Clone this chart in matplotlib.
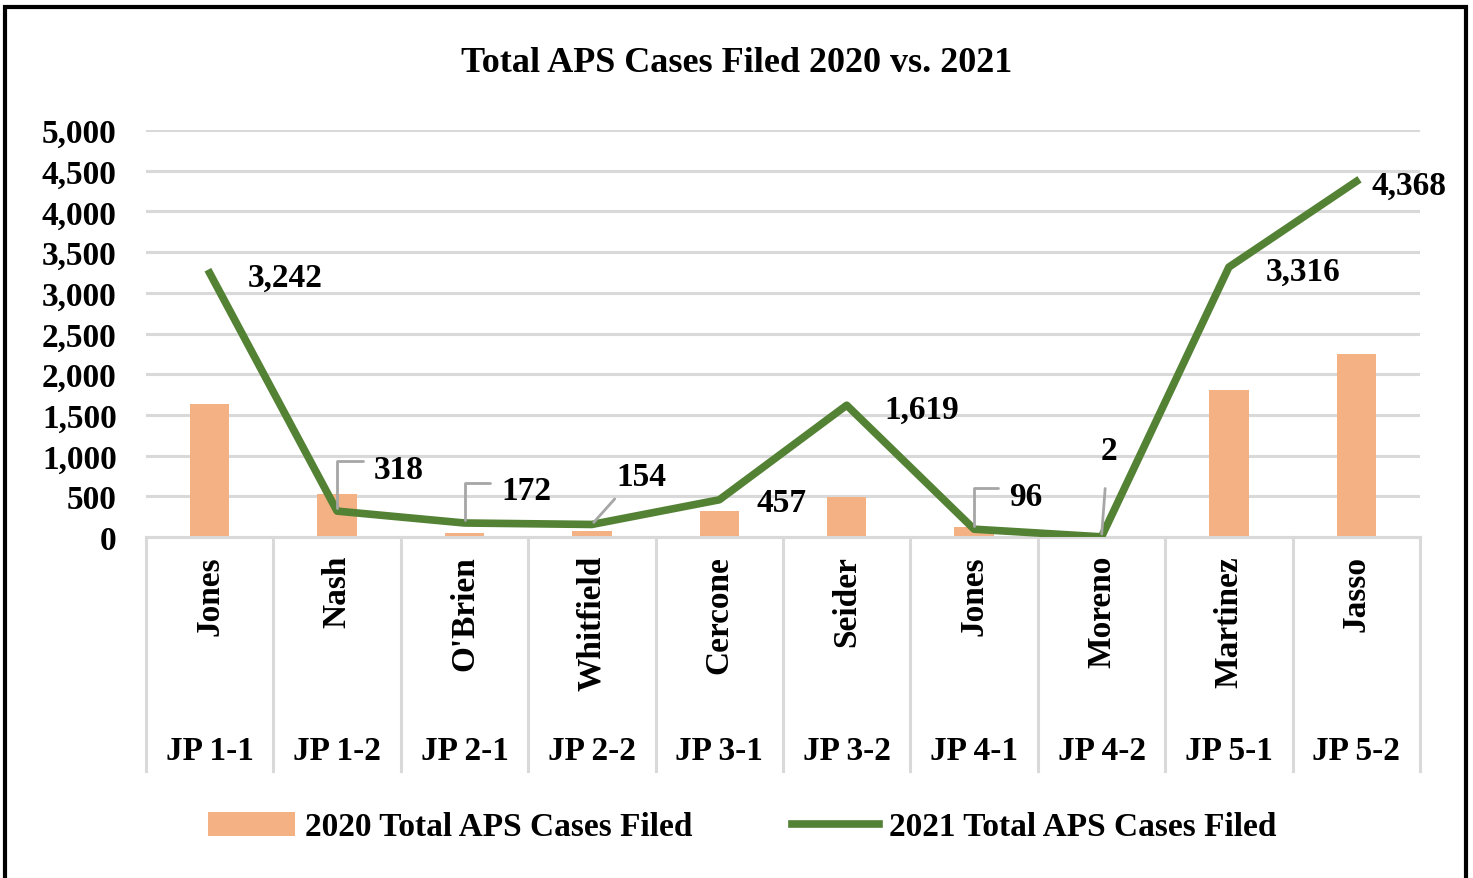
import matplotlib
matplotlib.use("Agg")
import matplotlib.pyplot as plt
from matplotlib.patches import Rectangle
import numpy as np

names = ["Jones", "Nash", "O'Brien", "Whitfield", "Cercone", "Seider", "Jones", "Moreno", "Martinez", "Jasso"]
precincts = ["JP 1-1", "JP 1-2", "JP 2-1", "JP 2-2", "JP 3-1", "JP 3-2", "JP 4-1", "JP 4-2", "JP 5-1", "JP 5-2"]
cases_2020 = [1630, 530, 45, 75, 315, 490, 120, 0, 1800, 2250]
cases_2021 = [3242, 318, 172, 154, 457, 1619, 96, 2, 3316, 4368]

# label offsets in pixels (dx, dy) and leader style
label_offsets = [(75, -4), (62, 42), (62, 32), (49, 48), (62, -3), (75, -4), (52, 33), (7, 86), (74, -4), (53, -4)]
leaders = [None, "elbow", "elbow", "straight", None, None, "elbow", "vertical", None, None]

plt.rcParams['font.family'] = ['Liberation Serif', 'DejaVu Serif']
plt.rcParams['font.weight'] = 'bold'

bar_color = '#F4B183'
line_color = '#548235'
grid_color = '#D9D9D9'
fs = 24

fig = plt.figure(figsize=(14.73, 8.79), dpi=100)
ax = fig.add_axes([146/1473, 1 - 538/879, (1420 - 146)/1473, 407/879])

x = np.arange(len(names))
bars = ax.bar(x, cases_2020, width=0.31, color=bar_color, label='2020 Total APS Cases Filed', zorder=2)
line, = ax.plot(x, cases_2021, color=line_color, linewidth=5.5, label='2021 Total APS Cases Filed', zorder=3)

ax.set_xlim(-0.5, len(names) - 0.5)
ax.set_ylim(0, 5000)
ax.set_yticks(np.arange(0, 5001, 500))
ax.set_yticklabels([f"{v:,}" for v in range(0, 5001, 500)], fontsize=fs, fontweight='bold')
ax.tick_params(axis='y', length=0, pad=21)
ax.tick_params(axis='x', length=0, labelbottom=False)
ax.grid(axis='y', color=grid_color, linewidth=2.2, zorder=0)
for s in ['top', 'right', 'left']:
    ax.spines[s].set_visible(False)
ax.spines['bottom'].set_color(grid_color)
ax.spines['bottom'].set_linewidth(2.2)

# two-level category axis
trans = ax.get_xaxis_transform()
for b in np.arange(-0.5, len(names), 1.0):
    ax.plot([b, b], [0, -(772 - 538)/407], transform=trans, color=grid_color, linewidth=2.2, clip_on=False)
for i in range(len(names)):
    ax.text(i, -(556 - 538)/407, names[i], transform=trans, rotation=90, ha='center', va='top',
            fontsize=fs, fontweight='bold')
    ax.text(i, -(752 - 538)/407, precincts[i], transform=trans, ha='center', va='center',
            fontsize=fs, fontweight='bold')

# data labels for the 2021 series
for i, v in enumerate(cases_2021):
    dx, dy = label_offsets[i]
    style = leaders[i]
    kw = dict(xytext=(dx, dy), textcoords='offset pixels', ha='center', va='center',
              fontsize=fs, fontweight='bold', zorder=5)
    if style == "elbow":
        kw['arrowprops'] = dict(arrowstyle='-', color='#A6A6A6', lw=2,
                                connectionstyle='angle,angleA=0,angleB=90,rad=0',
                                relpos=(0, 0.75), shrinkA=6, shrinkB=2)
    elif style == "straight":
        kw['arrowprops'] = dict(arrowstyle='-', color='#A6A6A6', lw=2,
                                relpos=(0.1, 0), shrinkA=4, shrinkB=2)
    elif style == "vertical":
        kw['arrowprops'] = dict(arrowstyle='-', color='#A6A6A6', lw=2,
                                relpos=(0.4, 0), shrinkA=14, shrinkB=2)
    ax.annotate(f"{v:,}", (i, v), **kw)

fig.text(737/1473, 1 - 64/879, 'Total APS Cases Filed 2020 vs. 2021', ha='center', va='center',
         fontsize=26, fontweight='bold')

fig.legend([bars, line], ['2020 Total APS Cases Filed', '2021 Total APS Cases Filed'],
           loc='center', bbox_to_anchor=(742/1473, 1 - 828/879), ncol=2, frameon=False,
           prop={'size': fs, 'weight': 'bold'}, handlelength=2.6, handletextpad=0.3, columnspacing=3.0)

fig.patches.append(Rectangle((5/1473, -0.01), (1466 - 5)/1473, 1.01 - 8/879, transform=fig.transFigure,
                             fill=False, edgecolor='black', linewidth=3, clip_on=False))

fig.savefig('out.png', dpi=100)
